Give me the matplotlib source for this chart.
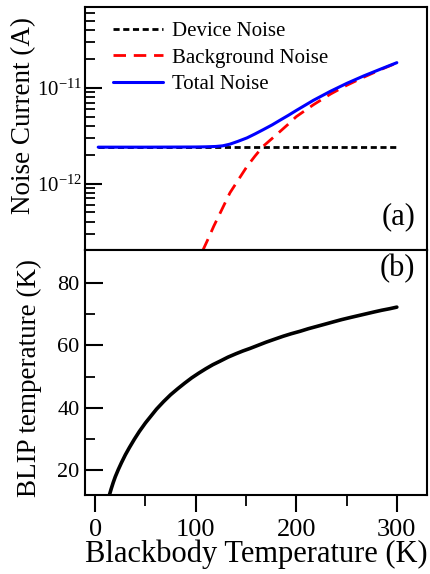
import matplotlib
matplotlib.use("Agg")
import matplotlib.pyplot as plt
import numpy as np
from matplotlib.ticker import LogLocator, FixedLocator, FuncFormatter

plt.rcParams['font.family'] = ['Liberation Serif', 'DejaVu Serif']
plt.rcParams['mathtext.fontset'] = 'custom'
plt.rcParams['mathtext.rm'] = 'Liberation Serif'
plt.rcParams['mathtext.it'] = 'Liberation Serif:italic'

# panel (a): noise current vs blackbody temperature (A)
dev_T = [3, 300]
dev_I = [2.40e-12, 2.40e-12]

bg_T = [107, 112, 118, 125, 134, 142, 151, 159, 167, 176, 184, 192, 200,
        217, 234, 250, 267, 284, 300]
bg_I = [0.20e-12, 0.26e-12, 0.36e-12, 0.51e-12, 0.80e-12, 1.08e-12, 1.51e-12,
        1.94e-12, 2.45e-12, 2.96e-12, 3.51e-12, 4.17e-12, 5.0e-12, 6.65e-12,
        8.6e-12, 10.6e-12, 12.9e-12, 15.5e-12, 18.2e-12]

tot_T = [3, 50, 100, 110, 120, 127, 134, 142, 151, 159, 167, 176, 184, 192,
         200, 217, 234, 250, 267, 284, 300]
tot_I = [2.40e-12, 2.40e-12, 2.41e-12, 2.42e-12, 2.44e-12, 2.48e-12, 2.58e-12,
         2.76e-12, 3.0e-12, 3.3e-12, 3.65e-12, 4.1e-12, 4.6e-12, 5.15e-12,
         5.8e-12, 7.4e-12, 9.2e-12, 11.1e-12, 13.3e-12, 15.7e-12, 18.3e-12]

# panel (b): BLIP temperature vs blackbody temperature (K)
blip_Tbb = [14, 16, 18, 20, 23, 26, 30, 34, 39, 44, 50, 55, 61, 68, 75, 82,
            89, 96, 103, 110, 117, 124, 132, 140, 147, 154, 162, 170, 178,
            187, 195, 204, 212, 220, 228, 237, 245, 254, 262, 270, 278, 285,
            293, 300]
blip_T = [12.0, 14.2, 16.2, 18.0, 20.3, 22.4, 25.0, 27.3, 30.0, 32.5, 35.2,
          37.2, 39.6, 42.0, 44.2, 46.1, 47.9, 49.6, 51.1, 52.5, 53.8, 54.9,
          56.2, 57.3, 58.2, 59.0, 60.0, 61.0, 61.9, 62.9, 63.7, 64.5, 65.3,
          66.0, 66.7, 67.5, 68.2, 68.9, 69.5, 70.1, 70.7, 71.2, 71.7, 72.2]

fig = plt.figure(figsize=(4.30, 5.74), dpi=100)
ax1 = fig.add_axes([0.198, 0.5636, 0.795, 0.4244])
ax2 = fig.add_axes([0.198, 0.1368, 0.795, 0.4268], sharex=ax1)

ax1.plot(dev_T, dev_I, color='black', ls=(0, (2.2, 1.3)), lw=2.0, label='Device Noise')
ax1.plot(bg_T, bg_I, color='red', ls=(0, (4.5, 2.8)), lw=2.0, label='Background Noise')
ax1.plot(tot_T, tot_I, color='blue', lw=2.2, label='Total Noise',
         solid_joinstyle='round', solid_capstyle='round')
ax1.set_yscale('log')
ax1.set_ylim(2.0e-13, 7.0e-11)
ax1.set_xlim(-10, 330)
ax1.yaxis.set_major_locator(FixedLocator([1e-12, 1e-11]))
ax1.yaxis.set_minor_locator(LogLocator(base=10, subs=np.arange(2, 10), numticks=10))
ax1.yaxis.set_major_formatter(FuncFormatter(
    lambda v, p: r'$\mathregular{10^{-%d}}$' % int(round(-np.log10(v)))))
ax1.tick_params(axis='y', which='major', direction='in', length=12, width=1.5, labelsize=15, pad=2)
ax1.tick_params(axis='y', which='minor', direction='in', length=7, width=1.3)
ax1.tick_params(axis='x', which='both', bottom=False, labelbottom=False)
ax1.set_ylabel('Noise Current (A)', fontsize=19.5)
ax1.yaxis.set_label_coords(-0.142, 0.556)
ax1.text(0.965, 0.08, '(a)', transform=ax1.transAxes, fontsize=22, ha='right', va='bottom')
leg = ax1.legend(loc='upper left', fontsize=15, frameon=False, handlelength=2.4,
                 handletextpad=0.4, labelspacing=0.33, borderaxespad=0.3,
                 bbox_to_anchor=(0.04, 1.0))

ax2.plot(blip_Tbb, blip_T, color='black', lw=2.6, solid_joinstyle='round',
         solid_capstyle='round')
ax2.set_ylim(12, 90.3)
ax2.xaxis.set_major_locator(FixedLocator([0, 100, 200, 300]))
ax2.xaxis.set_minor_locator(FixedLocator([50, 150, 250]))
ax2.yaxis.set_major_locator(FixedLocator([20, 40, 60, 80]))
ax2.yaxis.set_minor_locator(FixedLocator([30, 50, 70]))
ax2.tick_params(axis='x', which='major', direction='out', length=12, width=1.5, labelsize=19, pad=5)
ax2.tick_params(axis='x', which='minor', direction='out', length=8, width=1.3)
ax2.tick_params(axis='y', which='major', direction='in', length=13, width=1.5, labelsize=16, pad=4)
ax2.tick_params(axis='y', which='minor', direction='in', length=7, width=1.3)
ax2.set_xlabel('Blackbody Temperature (K)', fontsize=22, labelpad=-1)
ax2.set_ylabel('BLIP temperature (K)', fontsize=19.5)
ax2.yaxis.set_label_coords(-0.126, 0.48)
ax2.text(0.965, 0.985, '(b)', transform=ax2.transAxes, fontsize=22, ha='right', va='top')

for ax in (ax1, ax2):
    for s in ax.spines.values():
        s.set_linewidth(1.5)

fig.savefig('out.png', dpi=100)
